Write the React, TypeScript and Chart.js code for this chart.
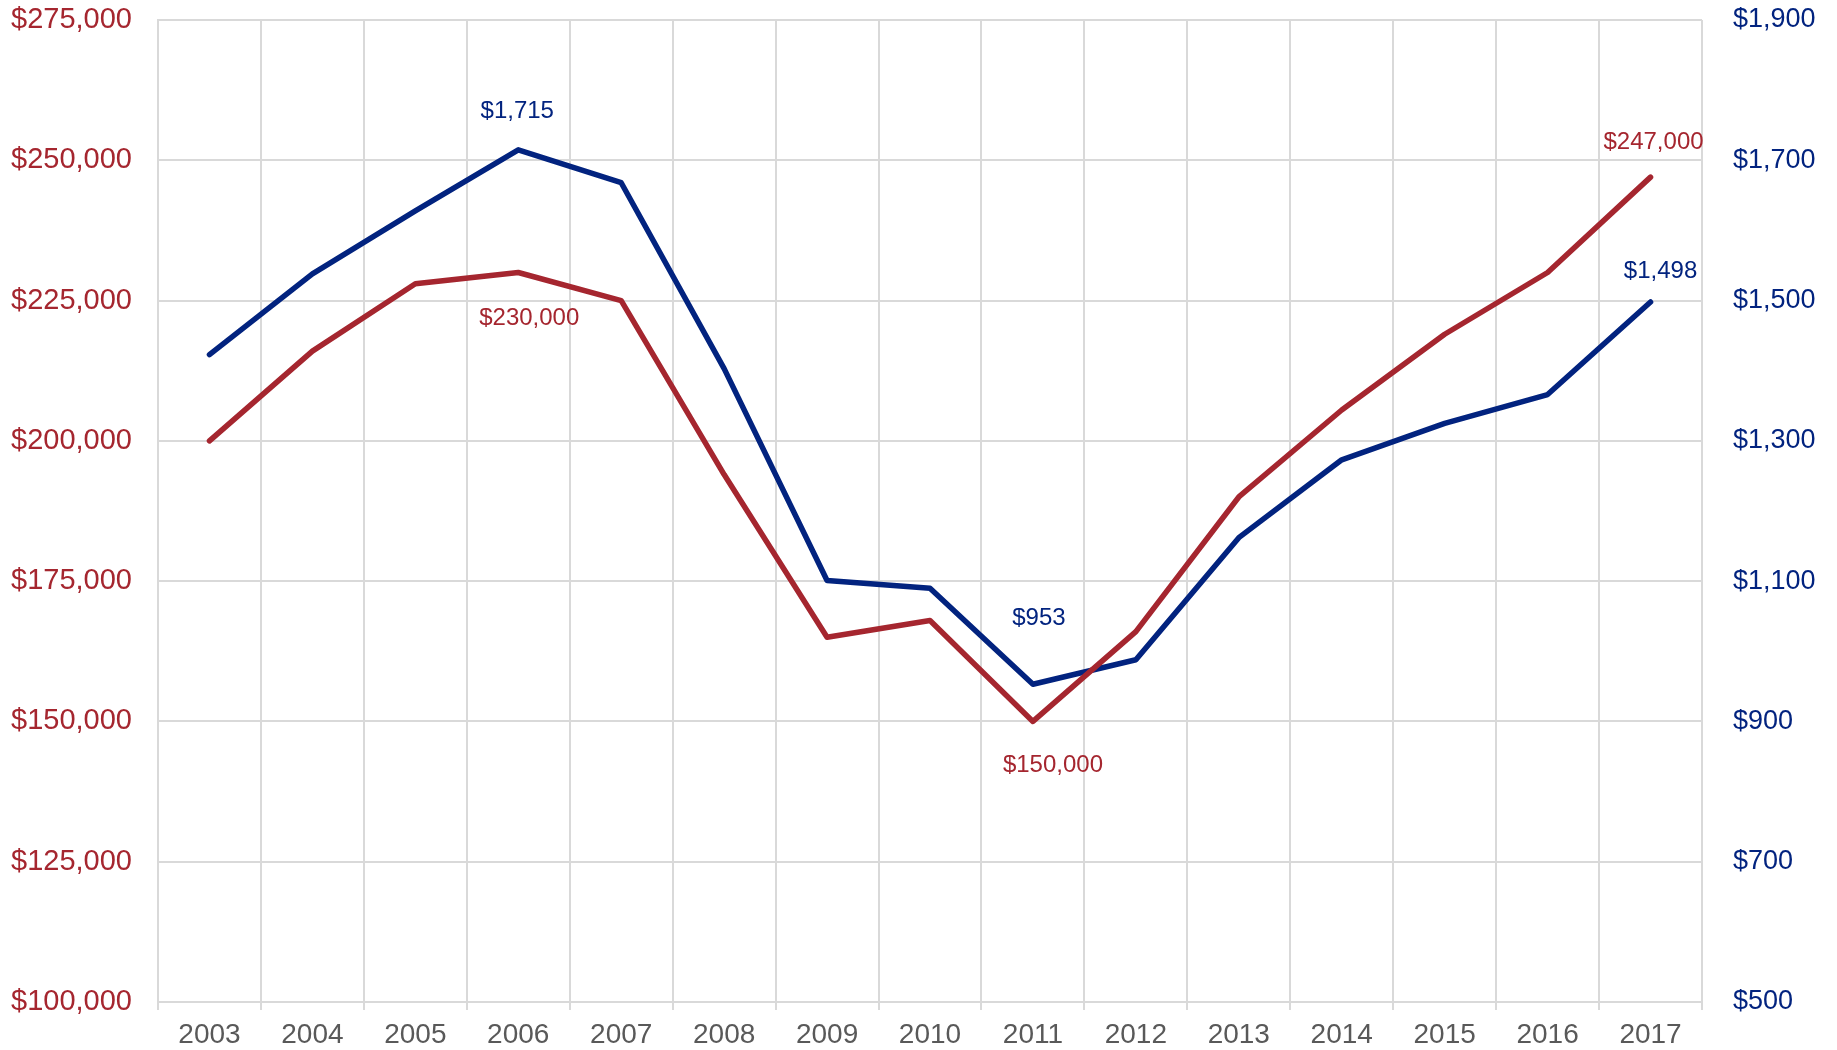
import React, { useEffect, useRef } from 'react';
import { Chart, registerables } from 'chart.js';

Chart.register(...registerables);

const years = ['2003', '2004', '2005', '2006', '2007', '2008', '2009', '2010', '2011', '2012', '2013', '2014', '2015', '2016', '2017'];
const medianHomePrice = [200000, 216000, 228000, 230000, 225000, 194000, 165000, 168000, 150000, 166000, 190000, 205500, 219000, 230000, 247000];
const medianRent = [1423, 1538, 1628, 1715, 1668, 1403, 1101, 1090, 953, 988, 1162, 1273, 1325, 1366, 1498];

const leftMin = 100000;
const leftMax = 275000;
const leftStep = 25000;
const rightMin = 500;
const rightMax = 1900;
const rightStep = 200;

// which points carry a value label (dataset index, point index)
const labeledPoints = [
  { ds: 0, i: 3, dx: 11, dy: 46 },
  { ds: 0, i: 8, dx: 20, dy: 44 },
  { ds: 0, i: 14, dx: 3, dy: -35 },
  { ds: 1, i: 3, dx: -1, dy: -38 },
  { ds: 1, i: 8, dx: 6, dy: -66 },
  { ds: 1, i: 14, dx: 10, dy: -31 },
];

const RED = '#A5262F';
const BLUE = '#02237F';
const GRID = '#D9D9D9';
const FONT = '"Liberation Sans", Arial, sans-serif';

const money = (v: number) => '$' + Number(v).toLocaleString('en-US');

const valueLabels = {
  id: 'valueLabels',
  afterDatasetsDraw(chart: any) {
    const ctx = chart.ctx;
    ctx.save();
    ctx.font = `24px ${FONT}`;
    ctx.textAlign = 'center';
    ctx.textBaseline = 'middle';
    labeledPoints.forEach((p) => {
      const meta = chart.getDatasetMeta(p.ds);
      const el = meta.data[p.i];
      if (!el) return;
      const ds = chart.data.datasets[p.ds];
      ctx.fillStyle = ds.borderColor;
      ctx.fillText(money(ds.data[p.i]), el.x + p.dx, el.y + p.dy);
    });
    ctx.restore();
  },
};

const noPad = (s: any) => {
  s.paddingTop = 0;
  s.paddingBottom = 0;
  s.paddingLeft = 0;
  s.paddingRight = 0;
};

export default function App() {
  const ref = useRef<HTMLCanvasElement | null>(null);

  useEffect(() => {
    if (!ref.current) return;
    const chart = new Chart(ref.current, {
      type: 'line',
      data: {
        labels: years,
        datasets: [
          {
            label: 'Median Home Price',
            data: medianHomePrice,
            borderColor: RED,
            backgroundColor: RED,
            borderWidth: 5.5,
            pointRadius: 0,
            tension: 0,
            borderCapStyle: 'round',
            borderJoinStyle: 'round',
            yAxisID: 'y',
          },
          {
            label: 'Median Rent',
            data: medianRent,
            borderColor: BLUE,
            backgroundColor: BLUE,
            borderWidth: 5.5,
            pointRadius: 0,
            tension: 0,
            borderCapStyle: 'round',
            borderJoinStyle: 'round',
            yAxisID: 'y1',
          },
        ],
      },
      options: {
        animation: false,
        responsive: false,
        devicePixelRatio: 1,
        layout: { padding: { top: 20, left: 0, right: 0, bottom: 0 } },
        plugins: {
          legend: { display: false },
          tooltip: { enabled: false },
        },
        scales: {
          x: {
            offset: true,
            grid: {
              offset: true,
              color: GRID,
              lineWidth: 2,
              drawTicks: true,
              tickLength: 8,
              tickColor: GRID,
            },
            border: { color: GRID, width: 2 },
            ticks: {
              color: '#595959',
              font: { family: FONT, size: 28 },
              padding: 8,
              maxRotation: 0,
              autoSkip: false,
            },
            afterFit: (s: any) => { s.height = 48; noPad(s); },
          },
          y: {
            position: 'left',
            min: leftMin,
            max: leftMax,
            grid: { color: GRID, lineWidth: 2, drawTicks: false },
            border: { color: GRID, width: 2 },
            ticks: {
              stepSize: leftStep,
              color: RED,
              font: { family: FONT, size: 29 },
              padding: 26,
              callback: (v: any) => money(v),
            },
            afterFit: (s: any) => { s.width = 158; noPad(s); },
          },
          y1: {
            position: 'right',
            min: rightMin,
            max: rightMax,
            grid: { drawOnChartArea: false, drawTicks: false },
            border: { display: false },
            ticks: {
              stepSize: rightStep,
              color: BLUE,
              font: { family: FONT, size: 27 },
              padding: 31,
              callback: (v: any) => money(v),
            },
            afterFit: (s: any) => { s.width = 135; noPad(s); },
          },
        },
      },
      plugins: [valueLabels],
    } as any);
    return () => chart.destroy();
  }, []);

  return (
    <div style={{ position: 'fixed', left: 0, top: 0, width: 1837, height: 1050, background: '#fff' }}>
      <canvas ref={ref} width={1837} height={1050} style={{ display: 'block', width: 1837, height: 1050 }} />
    </div>
  );
}
